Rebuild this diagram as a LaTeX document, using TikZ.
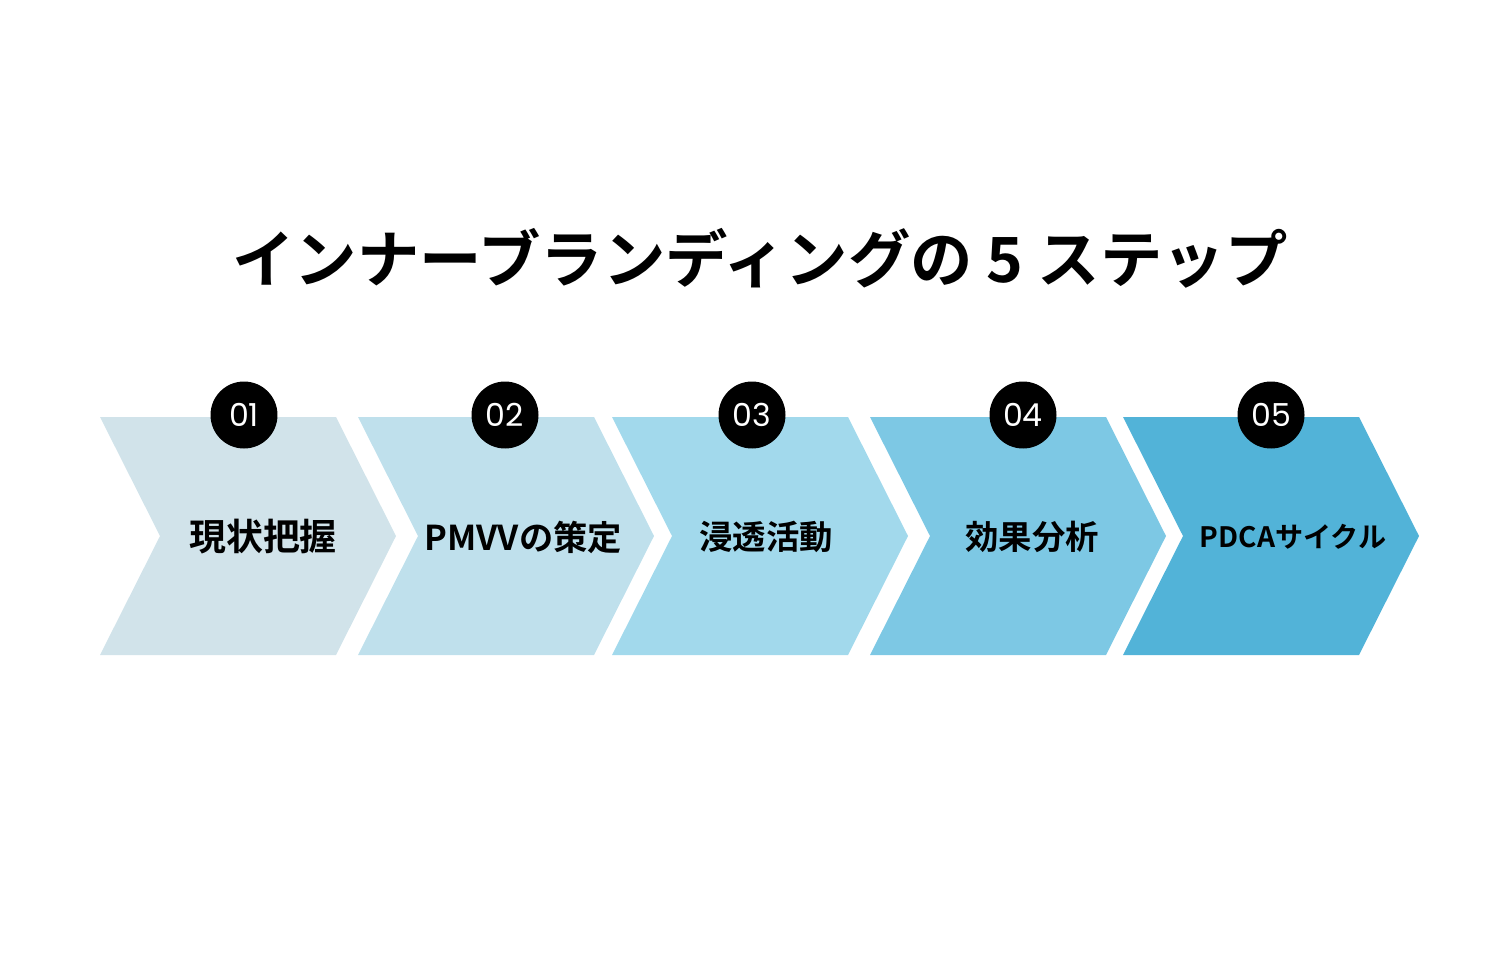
\documentclass[tikz,border=0pt]{standalone}
\usepackage{fontspec}
\usepackage{tikz}
\usetikzlibrary{positioning}
\newfontfamily\jpfont{Noto Sans CJK JP}[BoldFont={Noto Sans CJK JP Bold}]
\newfontfamily\numfont{Poppins}
\definecolor{stepA}{HTML}{D1E3EA}
\definecolor{stepB}{HTML}{BFE0EC}
\definecolor{stepC}{HTML}{A2D9EC}
\definecolor{stepD}{HTML}{7DC8E4}
\definecolor{stepE}{HTML}{52B3D8}
\tikzstyle{stepnum} = [circle, fill=black, text=white, inner sep=0pt, minimum size=1.34cm, font=\numfont\fontsize{18}{18}\selectfont]
\tikzstyle{steplabel} = [inner sep=0pt, font=\jpfont\bfseries]
\tikzstyle{heading} = [inner sep=0pt, font=\jpfont\bfseries\fontsize{35.5}{35.5}\selectfont]

\begin{document}
\begin{tikzpicture}[x=0.02cm, y=-0.02cm]
    \useasboundingbox (0,0) rectangle (1500,960);
    \node[heading] (title) at (760,258) {インナーブランディングの 5 ステップ};
    \foreach \i/\x/\c/\cx/\lx/\s/\txt in {1/100/stepA/244/263/21/現状把握, 2/358/stepB/505/523/19.5/PMVVの策定, 3/612/stepC/752/766/19/浸透活動, 4/870/stepD/1023/1032/19/効果分析, 5/1123/stepE/1271/1293/16/PDCAサイクル}
    {
        \fill[\c] (\x,417) -- ++(236,0) -- ++(60,119) -- ++(-60,119) -- ++(-236,0) -- ++(60,-119) -- cycle;
        \node[steplabel] (label\i) at (\lx,537) {\fontsize{\s}{\s}\selectfont\txt};
        \node[stepnum] (num\i) at (\cx,415) {0\i};
    }
\end{tikzpicture}
\end{document}
